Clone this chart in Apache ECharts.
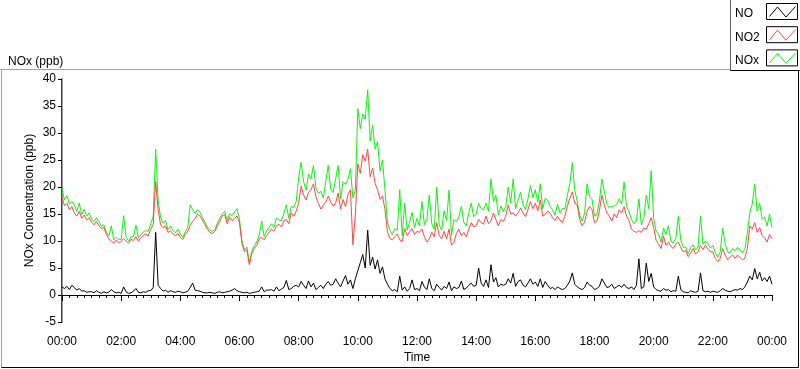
<!DOCTYPE html>
<html>
<head>
<meta charset="utf-8">
<script src="https://cdn.jsdelivr.net/npm/echarts@6/dist/echarts.min.js"></script>
<style>
html,body{margin:0;padding:0;background:#fff;}
#c{width:800px;height:369px;}
</style>
</head>
<body>
<div id="c"></div>
<script>
// sampling: one value every 5 minutes from 00:00 to 24:00
const stepMinutes = 5;
const seriesNames = ['NO', 'NO2', 'NOx'];
const seriesColors = ['#000000', '#ff4646', '#12f012'];

const no2 = [
18.2,16.5,17.0,15.8,16.4,15.2,14.6,15.5,14.2,14.8,13.9,14.3,
13.5,13.0,13.6,12.8,12.3,12.5,11.2,10.4,10.0,9.6,10.2,9.7,
9.9,10.5,10.0,9.6,10.3,10.1,10.8,10.0,10.6,11.0,11.3,10.9,
12.2,13.0,21.0,15.8,13.0,12.5,12.8,11.6,11.9,11.3,11.0,11.4,
10.7,10.3,11.2,11.8,12.9,13.6,14.2,15.0,14.6,13.8,13.0,12.2,
11.6,11.4,11.8,12.8,13.6,14.6,14.9,13.2,14.4,13.8,14.2,14.6,
13.4,9.5,8.0,8.4,5.6,7.7,8.6,9.2,10.4,10.7,10.2,11.0,
11.6,12.2,11.8,12.8,13.1,12.6,13.7,14.0,13.2,15.2,14.6,15.5,
17.0,20.2,18.5,17.6,19.0,19.5,20.6,18.2,17.0,15.9,16.6,17.2,
18.3,17.2,16.5,17.0,18.9,15.9,17.7,16.4,18.6,19.5,9.3,15.0,
24.3,22.5,26.0,24.8,27.0,21.9,23.5,20.7,19.5,17.7,18.3,15.9,
11.7,10.5,10.2,10.8,11.3,10.2,9.9,12.3,11.0,11.7,12.3,11.2,
11.8,11.6,12.2,10.8,9.8,10.4,11.6,10.8,13.4,11.0,10.4,11.8,
10.4,12.2,9.2,9.8,11.4,12.2,11.0,11.6,10.8,12.2,13.4,12.6,
12.8,14.0,13.4,13.1,14.6,13.2,13.7,15.2,14.0,12.8,14.0,13.6,
14.6,16.7,15.0,15.2,14.6,15.2,16.1,15.2,14.5,15.8,17.3,16.0,
17.0,15.6,17.6,14.6,14.9,15.5,15.2,14.3,13.8,14.6,13.9,13.4,
14.6,16.5,17.9,19.1,17.0,16.7,14.0,12.8,13.5,15.5,16.4,15.8,
13.4,13.7,15.6,18.5,16.7,15.2,14.6,13.7,15.0,14.3,15.8,15.2,
16.4,14.6,13.8,12.2,11.8,11.6,11.9,11.6,12.4,12.2,13.2,14.3,
12.5,10.1,9.4,8.6,10.9,9.2,9.8,9.0,8.6,9.4,9.8,8.8,
8.0,8.2,7.1,7.7,8.6,7.6,8.0,9.2,8.4,9.2,8.5,8.0,
8.0,6.8,6.2,6.8,8.6,7.4,6.5,7.0,7.4,6.8,7.4,7.0,
6.5,6.8,8.6,12.8,12.2,13.4,11.6,12.5,11.0,10.6,9.8,11.2,
10.4
];

const no = [
1.5,1.2,1.6,1.0,1.8,1.4,0.9,1.2,0.7,0.8,0.5,0.6,
0.6,0.4,0.8,0.5,0.3,0.6,0.4,0.5,1.0,0.6,0.4,0.5,
0.3,1.5,0.6,0.3,0.4,0.7,1.2,0.5,0.4,0.6,0.5,0.8,
0.8,1.4,11.6,1.8,1.2,0.7,0.9,0.5,0.8,0.6,0.5,0.7,
0.6,0.4,0.5,0.7,1.4,2.2,0.9,0.8,0.7,0.5,0.4,0.4,
0.5,0.4,0.3,0.5,0.6,0.4,0.5,0.6,0.7,0.9,1.2,0.8,
0.6,0.5,0.4,0.5,0.3,0.4,0.5,0.6,0.7,1.5,0.6,0.9,
0.9,1.0,0.7,1.5,0.8,1.1,1.4,2.7,1.0,1.2,1.6,1.8,
1.5,2.5,1.8,1.2,2.6,1.5,2.2,1.0,1.4,1.8,1.2,2.0,
2.5,1.8,2.0,3.0,2.2,1.5,2.6,3.6,2.0,2.8,1.2,3.0,
4.5,6.0,7.5,5.0,12.0,5.5,7.0,4.8,6.5,4.0,5.2,3.0,
2.0,1.2,0.8,1.0,0.6,3.5,0.9,1.5,0.7,1.2,2.8,1.0,
1.2,0.8,2.5,1.5,1.0,3.0,1.2,0.8,2.0,1.4,0.9,1.6,
1.2,2.4,0.8,1.5,1.2,1.4,2.6,1.0,1.3,1.8,2.2,1.6,
1.8,5.0,2.2,1.6,2.8,1.4,5.6,2.4,3.2,1.5,2.0,1.8,
2.0,3.0,2.2,4.0,1.6,2.5,2.8,1.8,1.5,2.2,3.0,2.0,
2.4,1.6,3.0,1.4,2.5,1.8,1.2,1.4,1.0,1.5,1.2,1.0,
1.2,1.8,2.6,4.1,2.0,1.5,1.2,1.0,1.4,2.4,1.8,1.6,
1.0,1.2,1.6,3.0,2.2,1.4,1.5,2.0,1.2,1.5,1.8,1.4,
2.0,1.4,1.2,1.5,1.0,1.8,6.7,1.2,1.5,5.9,2.5,4.0,
1.5,1.0,0.8,0.7,1.2,0.9,1.0,0.6,0.8,0.7,3.5,1.0,
0.6,0.5,0.4,0.8,0.6,0.5,0.7,4.1,0.8,0.6,0.7,0.5,
0.7,0.6,0.5,0.8,1.2,0.9,0.7,0.6,0.8,1.0,0.9,1.2,
1.0,1.5,2.4,3.5,2.8,4.9,3.0,4.2,2.6,3.2,2.5,3.5,
2.0
];

const nox = [
19.8,17.6,18.4,16.8,17.3,16.7,15.5,17.0,14.9,15.9,14.6,15.2,
14.1,13.6,14.3,13.6,12.7,13.0,11.6,10.9,12.8,10.2,10.7,10.3,
10.3,14.7,10.7,10.0,10.8,10.8,12.9,10.6,11.1,11.7,11.9,11.8,
13.2,14.6,27.0,17.4,14.4,13.3,13.8,12.1,12.8,12.0,11.5,12.2,
11.3,10.7,11.7,12.5,16.7,15.8,15.1,15.8,15.3,14.3,13.4,12.6,
12.1,11.8,12.1,13.3,14.2,15.0,15.5,13.8,15.1,14.7,15.4,16.0,
14.0,10.0,8.4,8.9,5.9,8.1,9.1,9.8,11.1,13.7,10.8,11.9,
12.5,13.2,12.5,14.3,13.9,13.7,15.1,16.7,14.2,16.4,16.2,17.3,
21.8,24.6,21.0,19.4,22.4,21.5,24.0,19.8,18.8,19.2,18.0,21.0,
24.0,19.6,19.0,21.5,24.0,17.8,21.0,20.5,21.4,23.4,18.0,19.5,
34.5,30.8,33.5,32.6,38.0,28.5,31.5,27.0,28.4,23.0,25.0,19.5,
13.5,12.0,11.2,12.3,12.0,19.5,11.0,17.0,12.0,13.5,15.3,12.5,
14.2,12.8,17.3,13.0,14.0,18.5,13.2,12.2,20.0,13.0,12.0,15.6,
13.8,19.4,11.0,14.0,13.5,14.5,16.4,13.4,12.8,15.2,17.0,14.5,
15.0,17.0,16.0,15.8,17.0,15.5,21.5,17.3,18.5,14.8,16.5,15.4,
16.4,20.0,17.0,21.5,16.0,17.6,19.0,16.8,15.8,17.8,20.3,18.0,
19.5,17.2,20.6,16.0,17.9,17.6,16.4,15.8,14.8,16.8,15.2,16.0,
16.0,18.5,20.6,24.5,19.4,17.3,14.8,13.7,15.2,20.6,18.2,17.7,
14.6,15.0,17.4,21.5,19.2,16.8,16.2,16.4,16.5,16.8,17.8,16.8,
20.9,16.4,15.4,14.0,13.2,13.8,17.8,13.0,14.2,18.5,16.0,23.0,
14.2,11.8,11.3,9.8,12.4,11.2,12.8,10.0,9.6,10.5,14.6,10.2,
8.8,8.9,7.6,8.8,9.3,8.3,8.9,14.6,9.4,10.0,9.5,8.7,
9.2,7.9,7.0,8.0,12.4,9.5,8.0,7.8,8.6,8.2,8.8,8.4,
7.8,8.5,11.5,15.2,16.8,20.6,15.5,17.0,14.0,14.5,12.8,15.0,
12.5
];

const toPairs = arr => arr.map((v, i) => [i * stepMinutes / 60, v]);
const fmtHour = v => String(Math.round(v) % 24).padStart(2, '0') + ':00';
const FONT = 'Liberation Sans';

const chart = echarts.init(document.getElementById('c'), null, {renderer: 'canvas'});

// legend drawn as boxed swatches (LabVIEW style)
const legendGraphics = [];
seriesNames.forEach((name, k) => {
  const by = 3.5 + k * 23.2;
  legendGraphics.push({type: 'text', x: 735, y: by + 10.5, silent: true,
    style: {text: name, fill: '#000', font: '12px "' + FONT + '"', textVerticalAlign: 'middle'}});
  legendGraphics.push({type: 'rect', shape: {x: 766.5, y: by, width: 31, height: 16}, silent: true,
    style: {fill: '#fff', stroke: '#000', lineWidth: 1}});
  legendGraphics.push({type: 'polyline', silent: true, z: 11,
    shape: {points: [[769.5, by + 13], [777.5, by + 3.5], [786, by + 13.5], [795.5, by + 3]]},
    style: {stroke: seriesColors[k], lineWidth: 1, fill: null}});
});

chart.setOption({
  animation: false,
  backgroundColor: '#fff',
  textStyle: {fontFamily: FONT},
  title: {
    text: 'NOx (ppb)', left: 3, top: 51,
    textStyle: {fontFamily: FONT, fontSize: 12, fontWeight: 'normal', color: '#000'}
  },
  grid: {left: 62, right: 28, top: 79, bottom: 39, show: false},
  xAxis: [{
    type: 'value', min: 0, max: 24, interval: 2,
    name: 'Time', nameLocation: 'middle', nameGap: 30, nameMoveOverlap: false,
    nameTextStyle: {fontFamily: FONT, fontSize: 12, color: '#000'},
    axisLine: {show: true, lineStyle: {color: '#a0a0a0', width: 1}},
    axisTick: {show: true, length: 6, lineStyle: {color: '#000'}},
    minorTick: {show: true, splitNumber: 8, length: 3, lineStyle: {color: '#000'}},
    axisLabel: {formatter: fmtHour, fontFamily: FONT, fontSize: 12, color: '#000', margin: 14},
    splitLine: {show: false}
  }, {
    type: 'value', min: 0, max: 24, position: 'top',
    axisLine: {show: true, lineStyle: {color: '#000', width: 1}},
    axisTick: {show: false}, axisLabel: {show: false}, splitLine: {show: false}
  }],
  yAxis: [{
    type: 'value', min: -5, max: 40, interval: 5,
    name: 'NOx Concentration (ppb)', nameLocation: 'middle', nameGap: 26, nameMoveOverlap: false,
    nameTextStyle: {fontFamily: FONT, fontSize: 12, color: '#000'},
    axisLine: {show: true, lineStyle: {color: '#000', width: 1.5}},
    axisTick: {show: true, length: 4, lineStyle: {color: '#000'}},
    axisLabel: {fontFamily: FONT, fontSize: 12, color: '#000', margin: 6},
    splitLine: {show: false}
  }, {
    type: 'value', min: -5, max: 40, position: 'right',
    axisLine: {show: true, lineStyle: {color: '#a0a0a0', width: 1}},
    axisTick: {show: false}, axisLabel: {show: false}, splitLine: {show: false}
  }],
  series: [
    {name: 'NOx', type: 'line', data: toPairs(nox), showSymbol: false, symbol: 'none',
     lineStyle: {color: seriesColors[2], width: 1}, itemStyle: {color: seriesColors[2]}, z: 2},
    {name: 'NO2', type: 'line', data: toPairs(no2), showSymbol: false, symbol: 'none',
     lineStyle: {color: seriesColors[1], width: 1}, itemStyle: {color: seriesColors[1]}, z: 3},
    {name: 'NO', type: 'line', data: toPairs(no), showSymbol: false, symbol: 'none',
     lineStyle: {color: seriesColors[0], width: 1}, itemStyle: {color: seriesColors[0]}, z: 4}
  ],
  graphic: [
    // outer panel frame
    {type: 'line', shape: {x1: 0, y1: 69.5, x2: 730, y2: 69.5}, style: {stroke: '#a0a0a0', lineWidth: 1}, silent: true},
    {type: 'line', shape: {x1: 1.5, y1: 69.5, x2: 1.5, y2: 367.5}, style: {stroke: '#a0a0a0', lineWidth: 1}, silent: true},
    {type: 'line', shape: {x1: 1.5, y1: 367.5, x2: 798.5, y2: 367.5}, style: {stroke: '#000', lineWidth: 1}, silent: true},
    {type: 'line', shape: {x1: 798.5, y1: 71, x2: 798.5, y2: 367.5}, style: {stroke: '#000', lineWidth: 1}, silent: true},
    // legend frame
    {type: 'line', shape: {x1: 730.5, y1: 0, x2: 730.5, y2: 71}, style: {stroke: '#606060', lineWidth: 1}, silent: true},
    {type: 'line', shape: {x1: 730.5, y1: 70.5, x2: 800, y2: 70.5}, style: {stroke: '#000', lineWidth: 1}, silent: true}
  ].concat(legendGraphics)
});
</script>
</body>
</html>
